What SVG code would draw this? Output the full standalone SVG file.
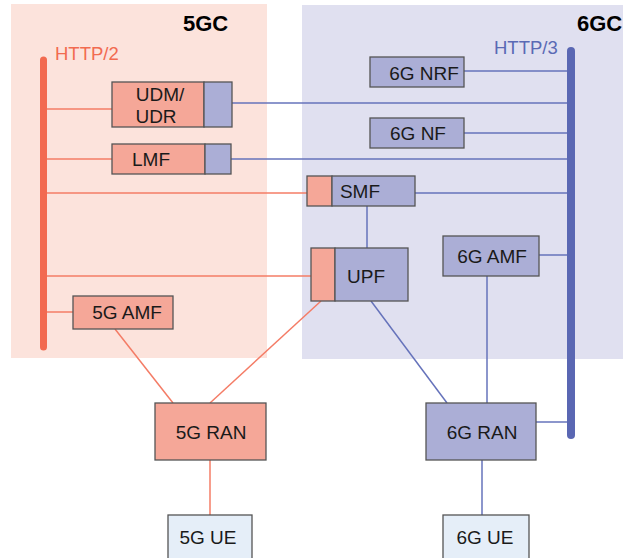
<svg xmlns="http://www.w3.org/2000/svg" width="623" height="558" viewBox="0 0 623 558">
  <style>
    text { font-family: "Liberation Sans", Arial, sans-serif; font-size: 19px; fill: #1a1a1a; }
    .core { font-weight: bold; font-size: 22px; fill: #000; }
    .proto { font-size: 18.5px; }
    .r { fill: #f5a798; stroke: #555; stroke-width: 1.3; }
    .b { fill: #abaed6; stroke: #555; stroke-width: 1.3; }
    .ue { fill: #e5eef8; stroke: #555; stroke-width: 1.3; }
    .lr { stroke: #f47c66; stroke-width: 1.5; fill: none; }
    .lb { stroke: #6673bb; stroke-width: 1.5; fill: none; }
  </style>

  <!-- core network regions -->
  <rect x="11" y="4" width="256" height="354" fill="#fce3dc"/>
  <rect x="302" y="5" width="321" height="354" fill="#e0e0f0"/>
  <text class="core" x="183" y="31">5GC</text>
  <text class="core" x="577" y="31">6GC</text>
  <text class="proto" x="55" y="60" fill="#f26b50" style="fill:#f26b50">HTTP/2</text>
  <text class="proto" x="494" y="54" style="fill:#5a6ab5">HTTP/3</text>

  <g id="connectors">
    <!-- HTTP/2 bus taps -->
    <line class="lr" x1="43" y1="109" x2="112" y2="109"/>
    <line class="lr" x1="43" y1="159" x2="112" y2="159"/>
    <line class="lr" x1="43" y1="193" x2="307" y2="193"/>
    <line class="lr" x1="43" y1="276" x2="311" y2="276"/>
    <line class="lr" x1="43" y1="312" x2="73" y2="312"/>
    <!-- HTTP/3 bus taps -->
    <line class="lb" x1="464" y1="71" x2="571" y2="71"/>
    <line class="lb" x1="232" y1="103" x2="571" y2="103"/>
    <line class="lb" x1="464" y1="133" x2="571" y2="133"/>
    <line class="lb" x1="231" y1="159" x2="571" y2="159"/>
    <line class="lb" x1="415" y1="193" x2="571" y2="193"/>
    <line class="lb" x1="539" y1="255" x2="571" y2="255"/>
    <line class="lb" x1="536" y1="422" x2="571" y2="422"/>
    <!-- other links -->
    <line class="lb" x1="367" y1="206" x2="367" y2="248"/>
    <line class="lb" x1="487" y1="276" x2="487" y2="403"/>
    <line class="lb" x1="371" y1="301" x2="447" y2="403"/>
    <line class="lb" x1="482" y1="460" x2="482" y2="515"/>
    <line class="lr" x1="115" y1="329" x2="173" y2="403"/>
    <line class="lr" x1="321" y1="301" x2="210" y2="403"/>
    <line class="lr" x1="210" y1="460" x2="210" y2="515"/>
    <!-- buses -->
    <line x1="43.5" y1="60" x2="43.5" y2="347" stroke="#f26a50" stroke-width="7" stroke-linecap="round"/>
    <line x1="571" y1="51" x2="571" y2="435" stroke="#5a67b3" stroke-width="8" stroke-linecap="round"/>
  </g>

  <g id="udm-udr">
    <rect class="r" x="112" y="82" width="92" height="45"/>
    <rect class="b" x="204" y="82" width="28" height="45"/>
    <text x="160" y="101" text-anchor="middle">UDM/</text>
    <text x="156" y="123" text-anchor="middle">UDR</text>
  </g>
  <g id="lmf">
    <rect class="r" x="112" y="144" width="93" height="30"/>
    <rect class="b" x="205" y="144" width="26" height="30"/>
    <text x="151" y="166" text-anchor="middle">LMF</text>
  </g>
  <g id="smf">
    <rect class="r" x="307" y="176" width="25" height="30"/>
    <rect class="b" x="332" y="176" width="83" height="30"/>
    <text x="360" y="198" text-anchor="middle">SMF</text>
  </g>
  <g id="upf">
    <rect class="r" x="311" y="248" width="24" height="53"/>
    <rect class="b" x="335" y="248" width="73" height="53"/>
    <text x="366" y="283" text-anchor="middle">UPF</text>
  </g>
  <g id="nrf-6g">
    <rect class="b" x="370" y="57" width="94" height="30"/>
    <text x="424" y="80" text-anchor="middle">6G NRF</text>
  </g>
  <g id="nf-6g">
    <rect class="b" x="370" y="118" width="94" height="30"/>
    <text x="418" y="140" text-anchor="middle">6G NF</text>
  </g>
  <g id="amf-6g">
    <rect class="b" x="443" y="236" width="96" height="40"/>
    <text x="492" y="263" text-anchor="middle">6G AMF</text>
  </g>
  <g id="amf-5g">
    <rect class="r" x="73" y="296" width="100" height="33"/>
    <text x="127" y="319" text-anchor="middle">5G AMF</text>
  </g>
  <g id="ran-5g">
    <rect class="r" x="155" y="403" width="111" height="57"/>
    <text x="211" y="439" text-anchor="middle">5G RAN</text>
  </g>
  <g id="ran-6g">
    <rect class="b" x="426" y="403" width="110" height="57"/>
    <text x="482" y="439" text-anchor="middle">6G RAN</text>
  </g>
  <g id="ue-5g">
    <rect class="ue" x="168" y="515" width="84" height="50"/>
    <text x="208" y="544" text-anchor="middle">5G UE</text>
  </g>
  <g id="ue-6g">
    <rect class="ue" x="443" y="515" width="86" height="50"/>
    <text x="485" y="544" text-anchor="middle">6G UE</text>
  </g>
</svg>
